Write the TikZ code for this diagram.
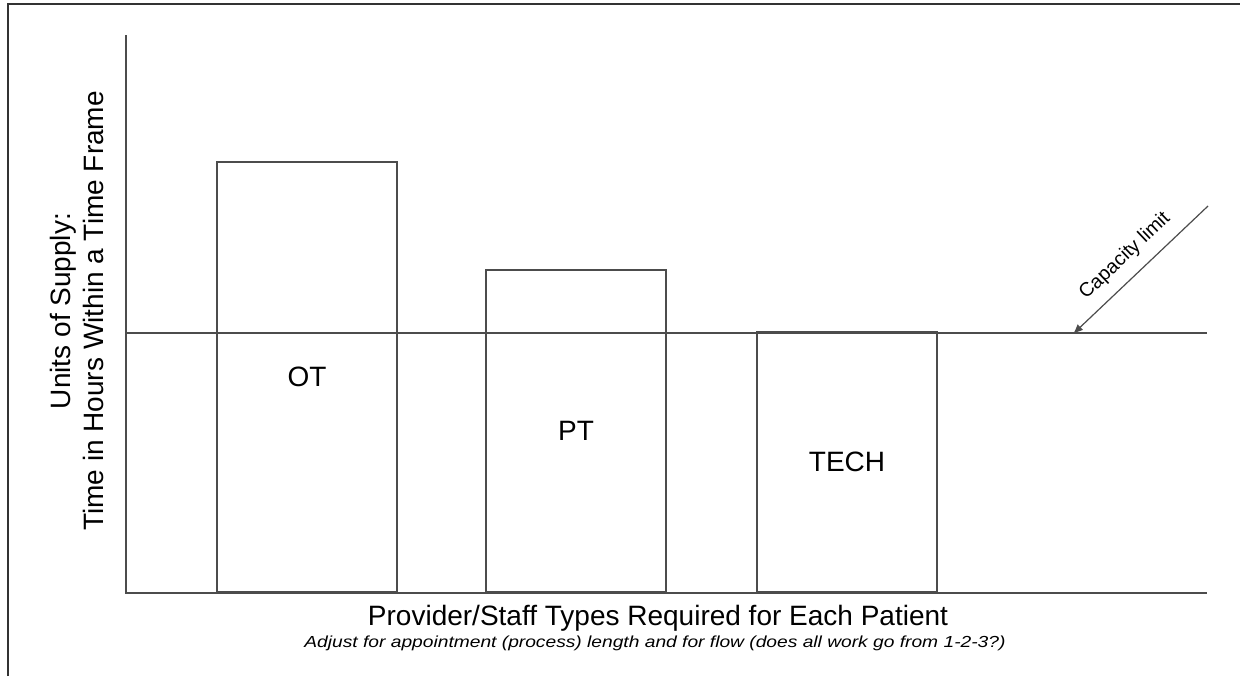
\documentclass[tikz,border=0pt]{standalone}
\usepackage{fontspec}
\setmainfont{Liberation Sans}
\usetikzlibrary{arrows.meta, positioning}

\begin{document}
\begin{tikzpicture}[
    x=0.5pt, y=-0.5pt,
    axis/.style={draw=black!70, line width=1pt},
    bar/.style={rectangle, draw=black!70, line width=1pt, minimum width=90pt, anchor=south, inner sep=0pt, font=\fontsize{14}{16}\selectfont},
    label/.style={font=\fontsize{14}{16.5}\selectfont, align=center},
    pointer/.style={-{Latex[length=5pt,width=4pt]}, draw=black!70, line width=0.6pt}
]
\useasboundingbox (0,0) rectangle (1240,676);
% frame
\draw[black!80, line width=1pt] (8,676) -- (8,4) -- (1240,4);
% axes and capacity line
\coordinate (origin) at (126,593);
\coordinate (ytop) at (126,35);
\coordinate (xend) at (1207,593);
\coordinate (capstart) at (126,333);
\coordinate (capend) at (1207,333);
\node[bar, minimum height=215pt] (ot) at (307,593) {OT};
\node[bar, minimum height=161pt] (pt) at (576,593) {PT};
\node[bar, minimum height=130pt] (tech) at (847,593) {TECH};
\draw[axis] (ytop) -- (origin) -- (xend);
\draw[axis] (capstart) -- (capend);
% capacity pointer
\coordinate (captail) at (1208,206);
\coordinate (captip) at (1073,334);
\draw[pointer] (captail) -- (captip);
\node[rotate=43.5, font=\fontsize{9.8}{11}\selectfont] (caplabel) at (1125,256) {Capacity limit};
% axis labels
\node[label, rotate=90] (ylabel) at (77,311) {Units of Supply:\\Time in Hours Within a Time Frame};
\node[label, anchor=base] (xlabel) at (658,625) {Provider/Staff Types Required for Each Patient};
\node[anchor=base, font=\fontsize{8}{10}\selectfont\itshape] (note) at (655,647) {\scalebox{1.2}[1]{Adjust for appointment (process) length and for flow (does all work go from 1-2-3?)}};
\end{tikzpicture}
\end{document}
